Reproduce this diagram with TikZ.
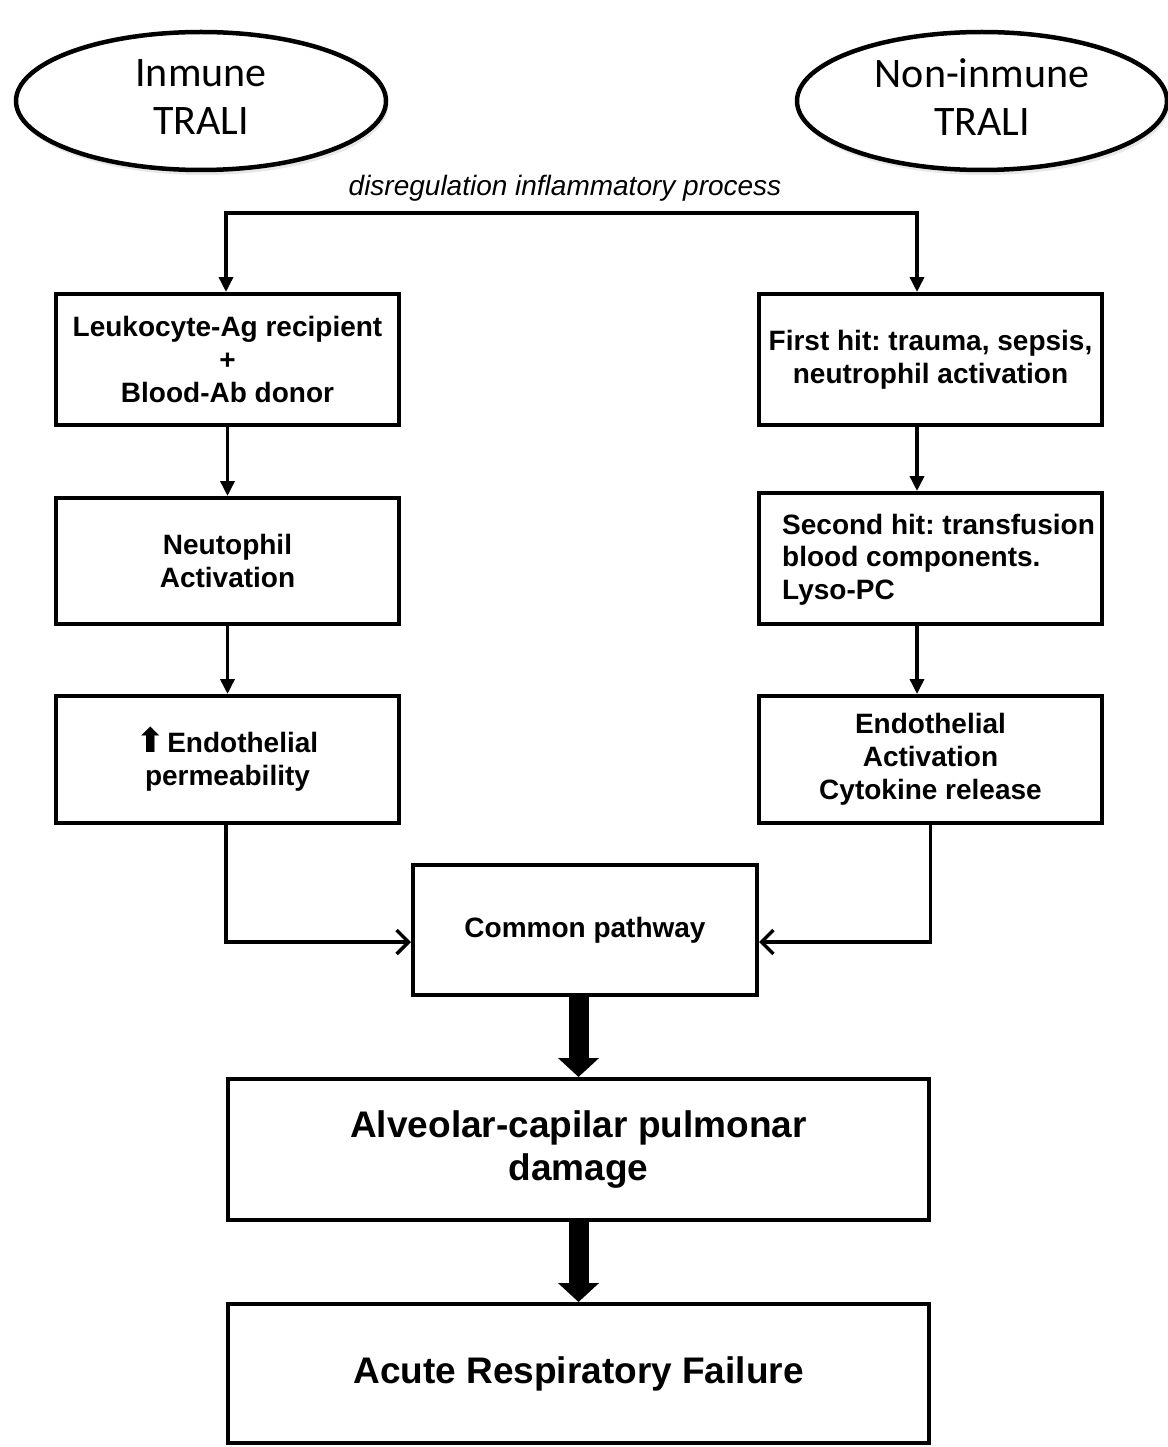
\documentclass[tikz,border=0pt]{standalone}
\usepackage{fontspec}
\setmainfont{Liberation Sans}
\newfontfamily\calib{Carlito}
\newfontfamily\dejavu{DejaVu Sans}
\usetikzlibrary{shapes.geometric,arrows.meta,shadows}
\begin{document}
\frenchspacing
\begin{tikzpicture}[x=1pt,y=-1pt,
  box/.style={draw,line width=4pt,minimum width=343pt,minimum height=131pt,align=center,
    font=\fontsize{28}{33}\selectfont\bfseries,inner sep=0pt},
  oval/.style={draw,ellipse,line width=4.5pt,minimum width=370pt,minimum height=138pt,
    font=\calib\fontsize{42}{48}\selectfont,align=center,fill=white,inner sep=0pt,text depth=7pt,
    drop shadow={opacity=0.18,shadow xshift=2pt,shadow yshift=-5pt}},
  arr/.style={line width=3.5pt,-{Triangle[length=15pt,width=14pt]}},
  oarr/.style={line width=3.5pt,-{Straight Barb[length=12pt,width=24pt]}},
  big/.style={line width=20pt,-{Triangle[length=19pt,width=40pt]}},
]
\useasboundingbox (0,0) rectangle (1167,1447);

\node[oval] (o1) at (201,101) {Inmune\\TRALI};
\node[oval] (o2) at (982,101) {Non-inmune\\TRALI};

\node[font=\fontsize{28}{33}\selectfont\itshape] (lab) at (565,188) {disregulation inflammatory process};
\coordinate (split) at (571,213);

\node[box] (b1) at (227.5,359.5) {Leukocyte-Ag recipient\\+\\Blood-Ab donor};
\node[box,minimum height=126pt] (b2) at (227.5,561) {Neutophil\\Activation};
\node[box,minimum height=127pt] (b3) at (227.5,759.5) {{\dejavu\fontsize{34}{34}\selectfont ⬆}\hspace{2pt}Endothelial\\permeability};

\node[box] (b4) at (930.5,359.5) {First hit: trauma, sepsis,\\neutrophil activation};
\node[box] (b5) at (930.5,558.5) {};
\node[anchor=west,align=left,inner sep=0pt,font=\fontsize{28}{32.5}\selectfont\bfseries] (t5) at (782,559.5) {Second hit: transfusion\\blood components.\\Lyso-PC};
\node[box,minimum height=127pt] (b6) at (930.5,759.5) {Endothelial\\Activation\\Cytokine release};

\node[box,minimum width=344pt,minimum height=130pt] (cp) at (585,930) {Common pathway};
\node[box,minimum width=701pt,minimum height=141pt,font=\fontsize{37}{43}\selectfont\bfseries] (alv) at (578.5,1149.5) {Alveolar-capilar pulmonar\\damage};
\node[box,minimum width=701pt,minimum height=139pt,font=\fontsize{37}{43}\selectfont\bfseries] (arf) at (578.5,1373.5) {Acute Respiratory Failure};

\draw[arr] (split) -| ([xshift=-1.5pt]b1.north);
\draw[arr] (split) -| ([xshift=-13.5pt]b4.north);
\draw[arr] (b1) -- (b2);
\draw[arr] (b2) -- (b3);
\draw[arr] ([xshift=-13.5pt]b4.south) -- ([xshift=-13.5pt]b5.north);
\draw[arr] ([xshift=-13.5pt]b5.south) -- ([xshift=-13.5pt]b6.north);
\draw[oarr] ([xshift=-1.5pt]b3.south) |- ([yshift=-12pt]cp.west);
\draw[oarr] (b6.south) |- ([yshift=-12pt]cp.east);
\draw[big] (cp.south -| alv.north) -- (alv.north);
\draw[big] (alv.south) -- (arf.north);
\end{tikzpicture}
\end{document}
